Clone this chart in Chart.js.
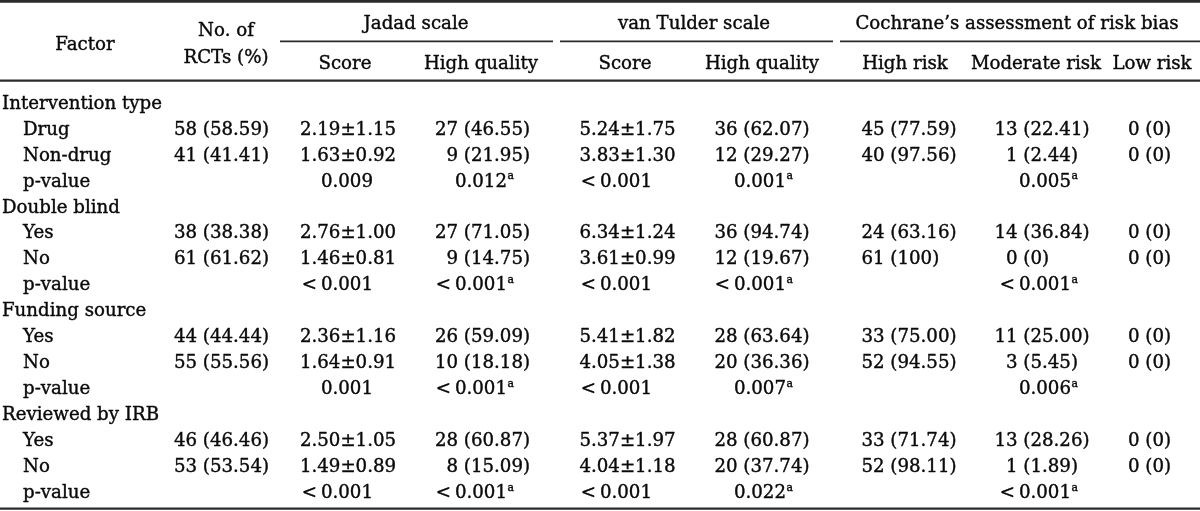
<!DOCTYPE html>
<html>
<head>
<meta charset="utf-8">
<script src="https://cdn.jsdelivr.net/npm/chart.js@4.4.1/dist/chart.umd.min.js"></script>
<style>
html,body{margin:0;padding:0;background:#fff;overflow:hidden}
#wrap{width:1200px;height:511px}
</style>
</head>
<body>
<div id="wrap"><canvas id="c" width="1200" height="511"></canvas></div>
<script>
// ---------------- data ----------------
const factors = ['Intervention type', 'Double blind', 'Funding source', 'Reviewed by IRB'];
const levels = [['Drug', 'Non-drug'], ['Yes', 'No'], ['Yes', 'No'], ['Yes', 'No']];
const pRowLabel = 'p-value';

const headFactor = 'Factor';
const headRCTs = ['No. of', 'RCTs (%)'];
const groupHeaders = ['Jadad scale', 'van Tulder scale', 'Cochrane\u2019s assessment of risk bias'];
const subHeaders = ['Score', 'High quality', 'Score', 'High quality', 'High risk', 'Moderate risk', 'Low risk'];

const nRCTs        = ['58 (58.59)', '41 (41.41)', '38 (38.38)', '61 (61.62)', '44 (44.44)', '55 (55.56)', '46 (46.46)', '53 (53.54)'];
const jadadScore   = ['2.19\u00b11.15', '1.63\u00b10.92', '2.76\u00b11.00', '1.46\u00b10.81', '2.36\u00b11.16', '1.64\u00b10.91', '2.50\u00b11.05', '1.49\u00b10.89'];
const jadadHigh    = ['27 (46.55)', '9 (21.95)', '27 (71.05)', '9 (14.75)', '26 (59.09)', '10 (18.18)', '28 (60.87)', '8 (15.09)'];
const tulderScore  = ['5.24\u00b11.75', '3.83\u00b11.30', '6.34\u00b11.24', '3.61\u00b10.99', '5.41\u00b11.82', '4.05\u00b11.38', '5.37\u00b11.97', '4.04\u00b11.18'];
const tulderHigh   = ['36 (62.07)', '12 (29.27)', '36 (94.74)', '12 (19.67)', '28 (63.64)', '20 (36.36)', '28 (60.87)', '20 (37.74)'];
const highRisk     = ['45 (77.59)', '40 (97.56)', '24 (63.16)', '61 (100)', '33 (75.00)', '52 (94.55)', '33 (71.74)', '52 (98.11)'];
const moderateRisk = ['13 (22.41)', '1 (2.44)', '14 (36.84)', '0 (0)', '11 (25.00)', '3 (5.45)', '13 (28.26)', '1 (1.89)'];
const lowRisk      = ['0 (0)', '0 (0)', '0 (0)', '0 (0)', '0 (0)', '0 (0)', '0 (0)', '0 (0)'];

const pJadadScore  = ['0.009', '<0.001', '0.001', '<0.001'];
const pJadadHigh   = ['0.012', '<0.001', '<0.001', '<0.001'];
const pTulderScore = ['<0.001', '<0.001', '<0.001', '<0.001'];
const pTulderHigh  = ['0.001', '<0.001', '0.007', '0.022'];
const pCochrane    = ['0.005', '<0.001', '0.006', '<0.001'];
const footnoteMark = 'a';

// ---------------- layout (positions & styles only) ----------------
const layout = {
  font: '"DejaVu Serif", "Liberation Serif", serif',
  fitText: 'Intervention type', fitWidth: 160,
  ink: '#0a0a0a', rule: '#2b2b2b', embolden: 0.4,
  labelX: 2, indentX: 23,
  colCenter: [221.5, 348, 482.5, 627.5, 762, 909, 1042, 1149.5],
  pRight:    [null, 373, 514, 652, 793, null, 1078, null],
  subCenter: [345, 481, 625, 762, 905, 1036, 1152],
  groupCenter: [416, 694, 1017],
  groupSpan: [[280, 553], [560, 833], [840, 1200]],
  factorX: 85, rctsX: 226,
  yGroup: 22, ySub: 61.5, yFactor: 42.5, yRcts: [28.5, 56],
  topRule: {y: 1.4, w: 2.6}, headRule: {y: 80.6, w: 2.4}, groupRule: {y: 41.4, w: 1.6}, bottomRule: {y: 508.6, w: 2.4},
  firstRow: 101.7, rowPitch: 25.95,
  ltGap: 4
};

// ---------------- build rows & datasets ----------------
const rows = [];
let lv = 0;
factors.forEach((f, fi) => {
  rows.push({label: f, kind: 'group', f: fi});
  levels[fi].forEach(l => rows.push({label: l, kind: 'level', f: fi, k: lv++}));
  rows.push({label: pRowLabel, kind: 'p', f: fi});
});

const columns = [
  {values: nRCTs, p: null, kind: 'count'},
  {values: jadadScore, p: pJadadScore, kind: 'score'},
  {values: jadadHigh, p: pJadadHigh, kind: 'count', foot: footnoteMark},
  {values: tulderScore, p: pTulderScore, kind: 'score'},
  {values: tulderHigh, p: pTulderHigh, kind: 'count', foot: footnoteMark},
  {values: highRisk, p: null, kind: 'count'},
  {values: moderateRisk, p: pCochrane, kind: 'count', foot: footnoteMark},
  {values: lowRisk, p: null, kind: 'count'}
];

const datasets = [];
datasets.push({
  label: 'Factor', cellKind: 'label',
  data: rows.map((r, i) => ({x: r.kind === 'group' ? layout.labelX : layout.indentX, y: i, t: r.label}))
});
columns.forEach((c, ci) => {
  const data = [];
  rows.forEach((r, i) => {
    if (r.kind === 'level') data.push({x: layout.colCenter[ci], y: i, t: c.values[r.k]});
    else if (r.kind === 'p' && c.p) data.push({x: layout.pRight[ci], y: i, t: c.p[r.f], isP: true});
  });
  datasets.push({label: 'col' + ci, cellKind: c.kind, foot: c.foot || '', data});
});
datasets.forEach(d => { d.pointRadius = 0; d.pointHoverRadius = 0; d.showLine = false; });

const rowPad = layout.rowPitch / 2;
const padTop = layout.firstRow - rowPad;
const padBottom = 511 - (layout.firstRow + layout.rowPitch * (rows.length - 1) + rowPad);

// ---------------- drawing plugin ----------------
const tablePlugin = {
  id: 'tableDraw',
  afterDatasetsDraw(chart) {
    const ctx = chart.ctx;
    const xs = chart.scales.x;
    const X = v => xs.getPixelForValue(v);
    const setFont = px => { ctx.font = px.toFixed(2) + 'px ' + layout.font; };
    ctx.save();
    setFont(100);
    const fs = 100 * layout.fitWidth / ctx.measureText(layout.fitText).width;
    setFont(fs);
    const capH = ctx.measureText('H').actualBoundingBoxAscent;
    const base = y => y + capH / 2;
    const supFs = fs * 0.6;
    const W = s => ctx.measureText(s).width;
    ctx.fillStyle = layout.ink;
    ctx.textBaseline = 'alphabetic';
    ctx.lineJoin = 'round';
    const put = (t, x, y) => {
      ctx.fillText(t, x, y);
      ctx.save(); ctx.strokeStyle = layout.ink; ctx.lineWidth = layout.embolden; ctx.strokeText(t, x, y); ctx.restore();
    };

    // rules
    ctx.strokeStyle = layout.rule;
    const hline = (x0, x1, r) => { ctx.lineWidth = r.w; ctx.beginPath(); ctx.moveTo(x0, r.y); ctx.lineTo(x1, r.y); ctx.stroke(); };
    hline(X(0), X(1200), layout.topRule);
    hline(X(0), X(1200), layout.headRule);
    hline(X(0), X(1200), layout.bottomRule);
    layout.groupSpan.forEach(s => hline(X(s[0]), X(s[1]), layout.groupRule));

    // header
    setFont(fs);
    ctx.textAlign = 'center';
    put(headFactor, X(layout.factorX), base(layout.yFactor));
    headRCTs.forEach((t, i) => put(t, X(layout.rctsX), base(layout.yRcts[i])));
    groupHeaders.forEach((t, i) => put(t, X(layout.groupCenter[i]), base(layout.yGroup)));
    subHeaders.forEach((t, i) => put(t, X(layout.subCenter[i]), base(layout.ySub)));

    function drawP(text, xRight, y, foot) {
      let lead = '', rest = text;
      if (text[0] === '<') { lead = '<'; rest = text.slice(1); }
      setFont(fs);
      const wl = lead ? W(lead) + layout.ltGap : 0;
      const wr = W(rest);
      setFont(supFs);
      const ws = foot ? W(foot) + 0.5 : 0;
      setFont(fs);
      const x0 = xRight - wl - wr - ws;
      ctx.textAlign = 'left';
      if (lead) put(lead, x0, base(y));
      put(rest, x0 + wl, base(y));
      if (foot) {
        setFont(supFs);
        put(foot, x0 + wl + wr + 0.5, base(y) - capH * 0.52);
        setFont(fs);
      }
    }

    chart.data.datasets.forEach((ds, d) => {
      const meta = chart.getDatasetMeta(d);
      setFont(fs);
      let lmax = 0, rmax = 0;
      if (ds.cellKind === 'count') {
        ds.data.forEach(p => {
          if (p.isP) return;
          const k = p.t.indexOf(' (');
          lmax = Math.max(lmax, W(p.t.slice(0, k)));
          rmax = Math.max(rmax, W(p.t.slice(k)));
        });
      }
      meta.data.forEach((el, j) => {
        const p = ds.data[j];
        const x = el.x, y = el.y;
        setFont(fs);
        if (p.isP) { drawP(p.t, x, y, ds.foot); return; }
        if (ds.cellKind === 'label') {
          ctx.textAlign = 'left';
          put(p.t, x, base(y));
        } else if (ds.cellKind === 'score') {
          ctx.textAlign = 'center';
          put(p.t, x, base(y));
        } else {
          const k = p.t.indexOf(' (');
          const split = x - (lmax + rmax) / 2 + lmax;
          ctx.textAlign = 'right';
          put(p.t.slice(0, k), split, base(y));
          ctx.textAlign = 'left';
          put(p.t.slice(k), split, base(y));
        }
      });
    });
    ctx.restore();
  }
};

new Chart(document.getElementById('c'), {
  type: 'scatter',
  data: {datasets},
  options: {
    responsive: false,
    animation: false,
    devicePixelRatio: 1,
    layout: {padding: {top: padTop, bottom: padBottom, left: 0, right: 0}},
    scales: {
      x: {type: 'linear', min: 0, max: 1200, display: false},
      y: {type: 'linear', min: -0.5, max: rows.length - 0.5, reverse: true, display: false}
    },
    plugins: {legend: {display: false}, tooltip: {enabled: false}},
    events: []
  },
  plugins: [tablePlugin]
});
</script>
</body>
</html>
